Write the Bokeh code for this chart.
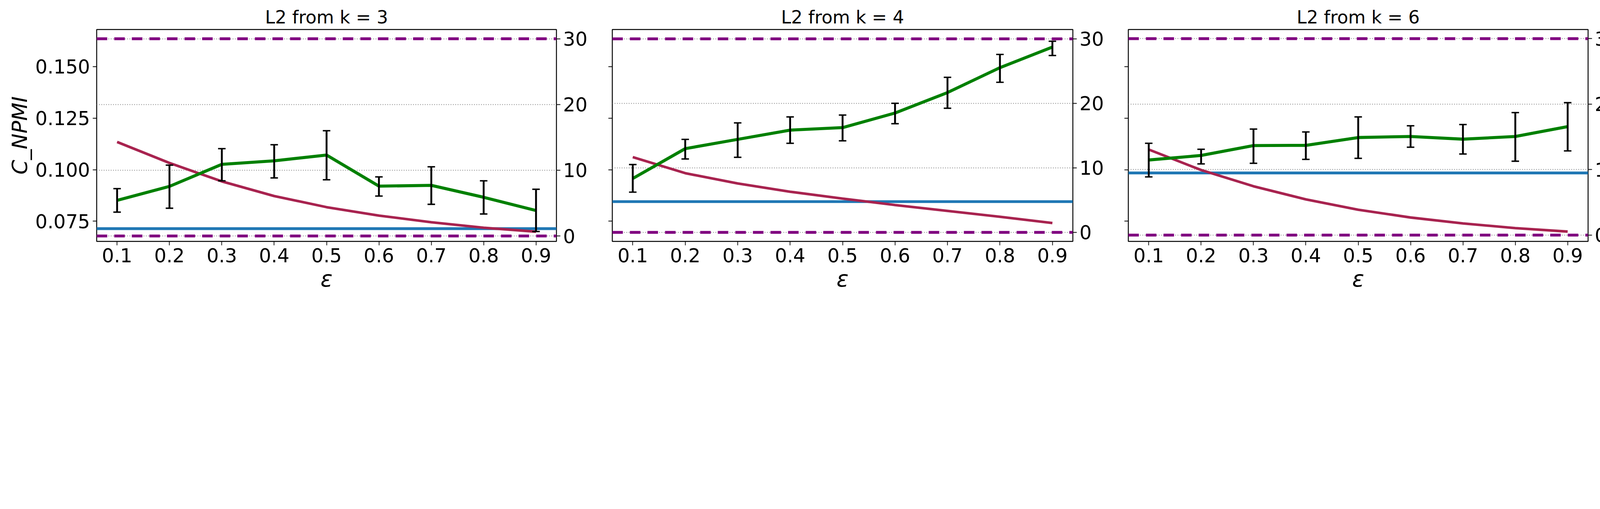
from bokeh.plotting import figure
from bokeh.layouts import row
from bokeh.models import (Range1d, LinearAxis, FixedTicker, NumeralTickFormatter, Grid,
                          CustomJSTickFormatter)
from bokeh.embed import file_html
from bokeh.resources import INLINE

eps = [0.1, 0.2, 0.3, 0.4, 0.5, 0.6, 0.7, 0.8, 0.9]
titles = ["L2 from k = 3", "L2 from k = 4", "L2 from k = 6"]

# C_NPMI mean and error bar ends (left axis)
npmi_k3 = [0.0851, 0.0919, 0.1026, 0.1043, 0.1071, 0.0920, 0.0924, 0.0866, 0.0802]
npmi_k3_hi = [0.0908, 0.1022, 0.1102, 0.1121, 0.1189, 0.0965, 0.1014, 0.0946, 0.0905]
npmi_k3_lo = [0.0794, 0.0813, 0.0946, 0.0960, 0.0951, 0.0872, 0.0832, 0.0785, 0.0700]
npmi_k4 = [0.0957, 0.1102, 0.1147, 0.1192, 0.1204, 0.1275, 0.1374, 0.1495, 0.1595]
npmi_k4_hi = [0.1025, 0.1147, 0.1227, 0.1256, 0.1265, 0.1322, 0.1448, 0.1559, 0.1623]
npmi_k4_lo = [0.0891, 0.1052, 0.1060, 0.1128, 0.1140, 0.1223, 0.1298, 0.1424, 0.1554]
npmi_k6 = [0.1047, 0.1069, 0.1117, 0.1118, 0.1156, 0.1161, 0.1148, 0.1161, 0.1209]
npmi_k6_hi = [0.1128, 0.1099, 0.1197, 0.1183, 0.1256, 0.1213, 0.1219, 0.1277, 0.1325]
npmi_k6_lo = [0.0965, 0.1028, 0.1031, 0.1050, 0.1055, 0.1109, 0.1076, 0.1041, 0.1091]

# baseline (blue, left axis)
baseline = [0.0714, 0.0845, 0.0984]

# red curve (right axis)
red_k3 = [14.3, 11.1, 8.3, 6.07, 4.38, 3.1, 2.08, 1.25, 0.65]
red_k4 = [11.67, 9.18, 7.58, 6.3, 5.24, 4.24, 3.33, 2.42, 1.45]
red_k6 = [13.07, 9.94, 7.46, 5.46, 3.88, 2.69, 1.79, 1.07, 0.54]

# purple dashed bounds (right axis)
bounds = [0, 30]
right_ranges = [(-0.83, 31.4), (-1.4, 31.45), (-0.96, 31.4)]

means = [npmi_k3, npmi_k4, npmi_k6]
his = [npmi_k3_hi, npmi_k4_hi, npmi_k6_hi]
los = [npmi_k3_lo, npmi_k4_lo, npmi_k6_lo]
reds = [red_k3, red_k4, red_k6]

# the page is drawn at a larger pixel ratio, so everything is scaled down
S = 0.6
FONT = "DejaVu Sans"
borders = [(411, 208), (30, 207), (30, 150)]
frame_w = [1962, 1965, 1961]


def px(v):
    return "%dpx" % round(v * S)


figs = []
for i in range(3):
    p = figure(frame_width=round(frame_w[i] * S), frame_height=round(903 * S),
               output_backend="svg", toolbar_location=None,
               x_range=Range1d(0.061, 0.939), y_range=Range1d(0.0652, 0.168),
               min_border_left=round(borders[i][0] * S),
               min_border_right=round(borders[i][1] * S),
               min_border_top=round(125 * S), min_border_bottom=round(200 * S))
    p.title.text = titles[i]
    p.title.text_font = FONT
    p.title.text_font_size = px(76)
    p.title.text_font_style = "normal"
    p.title.text_color = "black"
    p.title.align = "center"
    p.outline_line_color = "black"
    p.outline_line_width = 4 * S
    p.outline_line_alpha = 1
    p.xgrid.visible = False
    p.ygrid.visible = False

    p.extra_y_ranges = {"r": Range1d(*right_ranges[i])}
    raxis = LinearAxis(y_range_name="r", ticker=FixedTicker(ticks=[0, 10, 20, 30]))
    p.add_layout(raxis, "right")
    p.add_layout(Grid(dimension=1, ticker=raxis.ticker, y_range_name="r",
                      grid_line_color="gray", grid_line_width=3 * S,
                      grid_line_dash="2 4"))

    p.xaxis.ticker = FixedTicker(ticks=eps)
    p.yaxis[0].ticker = FixedTicker(ticks=[0.075, 0.1, 0.125, 0.15])
    p.yaxis[0].formatter = NumeralTickFormatter(format="0.000")
    for ax in p.xaxis + p.yaxis:
        ax.major_label_text_font = FONT
        ax.major_label_text_font_size = px(82)
        ax.major_label_text_color = "black"
        ax.major_tick_line_width = 3 * S
        ax.major_tick_out = round(16 * S)
        ax.major_tick_in = 0
        ax.minor_tick_line_color = None
        ax.axis_line_color = None
        ax.major_label_standoff = round(12 * S)
    if i > 0:
        p.yaxis[0].formatter = CustomJSTickFormatter(code="return ''")
    else:
        p.yaxis[0].axis_label = "C_NPMI"
        p.yaxis[0].axis_label_text_font = FONT
        p.yaxis[0].axis_label_text_font_size = px(90)
        p.yaxis[0].axis_label_text_font_style = "italic"
        p.yaxis[0].axis_label_text_color = "black"
    p.xaxis.axis_label = "ε"
    p.xaxis.axis_label_text_font = FONT
    p.xaxis.axis_label_text_font_size = px(95)
    p.xaxis.axis_label_text_font_style = "italic"
    p.xaxis.axis_label_text_color = "black"
    p.xaxis.axis_label_standoff = round(10 * S)

    # purple dashed bounds
    for b in bounds:
        p.line([0.061, 0.939], [b, b], y_range_name="r", color="purple",
               line_width=12 * S, line_dash="27 18")
    # baseline
    p.line([0.061, 0.939], [baseline[i], baseline[i]], color="#1f77b4", line_width=12 * S)
    # red curve
    p.line(eps, reds[i], y_range_name="r", color="#a8234f", line_width=11 * S)
    # green with error bars
    p.line(eps, means[i], color="green", line_width=13 * S)
    p.segment(x0=eps, y0=los[i], x1=eps, y1=his[i], color="black", line_width=8 * S)
    p.scatter(eps, his[i], marker="dash", size=32 * S, line_width=6 * S, color="black")
    p.scatter(eps, los[i], marker="dash", size=32 * S, line_width=6 * S, color="black")
    figs.append(p)

layout = row(*figs, spacing=0)
open("out.html", "w").write(file_html(layout, INLINE))
